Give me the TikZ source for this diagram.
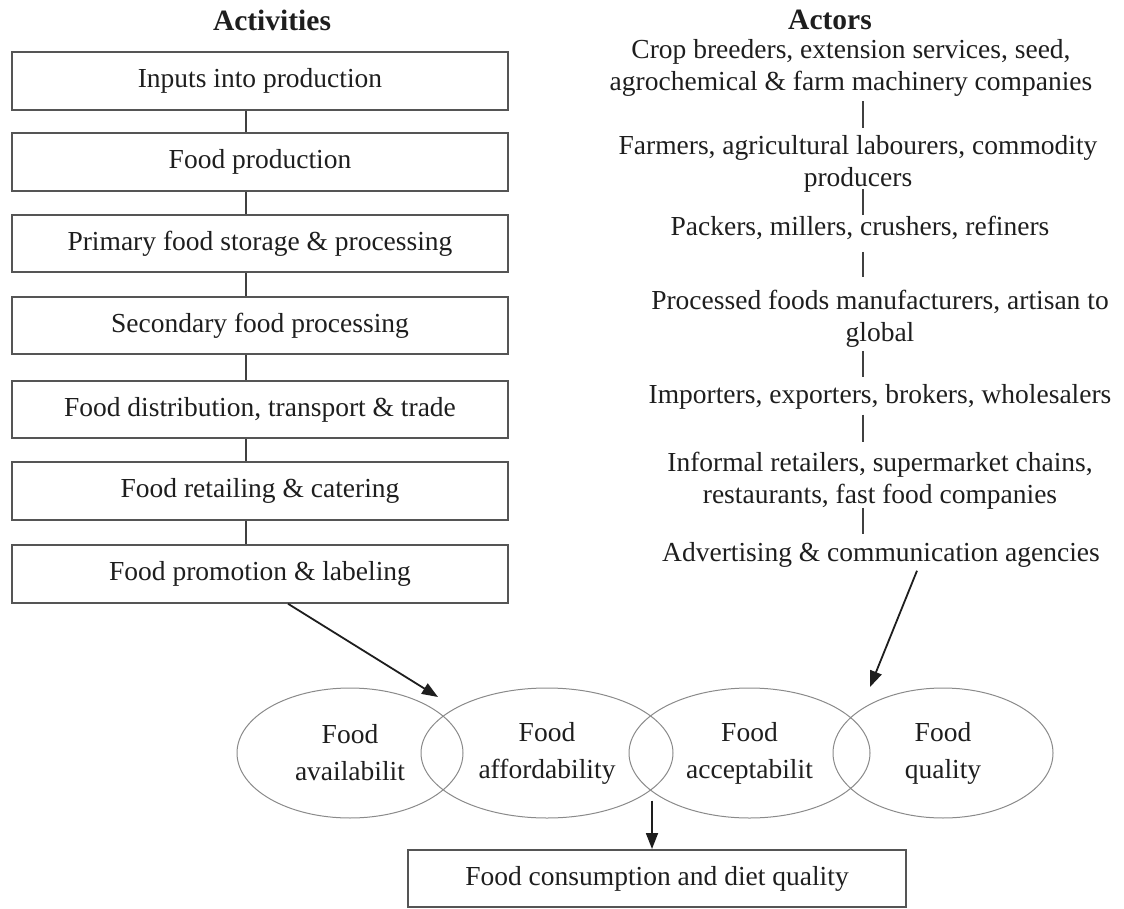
\documentclass[tikz,border=0pt]{standalone}
\usepackage{fontspec}
\setmainfont{Liberation Serif}
\usetikzlibrary{shapes.geometric,arrows.meta}
\definecolor{ink}{HTML}{1E1E1E}
\definecolor{frame}{HTML}{555555}
\definecolor{rim}{HTML}{8A8A8A}

\begin{document}
\begin{tikzpicture}[x=1pt,y=-1pt,
  every node/.style={text=ink, font=\fontsize{27.5}{32}\selectfont},
  title/.style={font=\fontsize{29.5}{34}\selectfont\bfseries},
  activity/.style={draw=frame, line width=2pt, minimum width=496pt,
    minimum height=57.5pt, inner sep=0pt},
  actor/.style={align=center, inner sep=0pt},
  factor/.style={ellipse, draw=rim, line width=1pt, inner sep=0pt,
    align=center, font=\fontsize{27.5}{37}\selectfont},
  outcome/.style={draw=frame, line width=2pt, minimum width=498pt,
    minimum height=57pt, inner sep=0pt},
  link/.style={draw=ink!85, line width=1.7pt},
  flow/.style={draw=ink, line width=1.8pt, -{Triangle[length=16pt,width=12pt]}},
]
\useasboundingbox (0,0) rectangle (1124,909);

% column headings
\node[title] (hact) at (272,20) {Activities};
\node[title] (hactor) at (830,20) {Actors};

% activities along the food chain
\node[activity] (b1) at (260,81)    {Inputs into production};
\node[activity] (b2) at (260,162)   {Food production};
\node[activity] (b3) at (260,243.5) {Primary food storage \& processing};
\node[activity] (b4) at (260,325.5) {Secondary food processing};
\node[activity] (b5) at (260,409.5) {Food distribution, transport \& trade};
\node[activity] (b6) at (260,491)   {Food retailing \& catering};
\node[activity] (b7) at (260,574)   {Food promotion \& labeling};

\coordinate (cx) at (246,0);
\foreach \u/\v in {b1/b2,b2/b3,b3/b4,b4/b5,b5/b6,b6/b7}
  \draw[link] (\u.south -| cx) -- (\v.north -| cx);

% actors along the food chain
\node[actor] (a1) at (851,67.5) {Crop breeders, extension services, seed,\\agrochemical \& farm machinery companies};
\node[actor] (a2) at (858,163.5) {Farmers, agricultural labourers, commodity\\producers};
\node[actor] (a3) at (860,228) {Packers, millers, crushers, refiners};
\node[actor] (a4) at (880,319) {Processed foods manufacturers, artisan to\\global};
\node[actor] (a5) at (880,397) {Importers, exporters, brokers, wholesalers};
\node[actor] (a6) at (880,481) {Informal retailers, supermarket chains,\\restaurants, fast food companies};
\node[actor] (a7) at (881,555) {Advertising \& communication agencies};

\coordinate (lx) at (863,0);
\draw[link] ([yshift=-5pt]a1.south -| lx) -- ([yshift=7pt]a2.north -| lx);
\draw[link] ([yshift=3pt]a2.south -| lx) -- ([yshift=1pt]a3.north -| lx);
\draw[link] ([yshift=-12pt]a3.south -| lx) -- ([yshift=13pt]a4.north -| lx);
\draw[link] ([yshift=-3pt]a4.south -| lx) -- ([yshift=7pt]a5.north -| lx);
\draw[link] ([yshift=-5pt]a5.south -| lx) -- ([yshift=10pt]a6.north -| lx);
\draw[link] ([yshift=2pt]a6.south -| lx) -- ([yshift=8pt]a7.north -| lx);

% dimensions of the food environment
\node[factor, minimum width=226pt, minimum height=130pt] (e1) at (350,753) {Food\\availabilit};
\node[factor, minimum width=252pt, minimum height=130pt] (e2) at (547,753) {Food\\affordability};
\node[factor, minimum width=241pt, minimum height=130pt] (e3) at (749.5,753) {Food\\acceptabilit};
\node[factor, minimum width=220pt, minimum height=130pt] (e4) at (943,753) {Food\\quality};

% outcome
\node[outcome] (out) at (657,878.5) {Food consumption and diet quality};

% arrows into and out of the food environment
\coordinate (sx1) at (288,0);
\coordinate (tip1) at (438,697);
\coordinate (sx2) at (917,0);
\coordinate (tip2) at (870,687);
\coordinate (dx) at (652,0);
\draw[flow] (b7.south -| sx1) -- (tip1);
\draw[flow] ([yshift=-3pt]a7.south -| sx2) -- (tip2);
\draw[flow] ([yshift=18pt]e2.south -| dx) -- (out.north -| dx);
\end{tikzpicture}
\end{document}
